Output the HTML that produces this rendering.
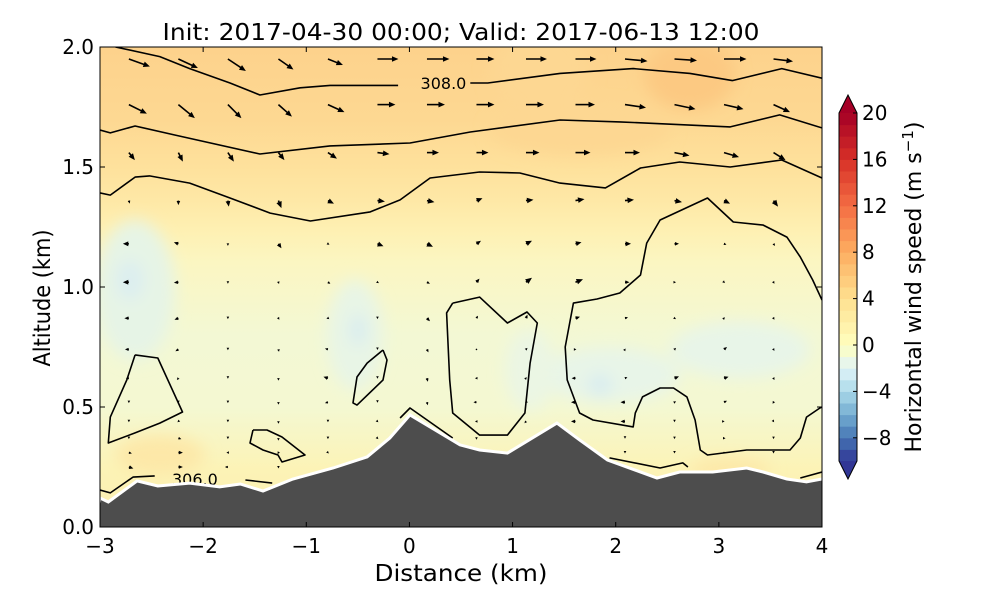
<!DOCTYPE html>
<html><head><meta charset="utf-8">
<style>
html,body{margin:0;padding:0;background:#fff;}
svg{display:block;font-family:"DejaVu Sans","Liberation Sans",sans-serif;}
</style></head>
<body>
<svg id="chart" width="1000" height="600" viewBox="0 0 1000 600" xmlns="http://www.w3.org/2000/svg">
<defs>
  <clipPath id="plotclip"><rect x="100" y="47" width="722" height="480"/></clipPath>
  <linearGradient id="bgGrad" x1="0" y1="47" x2="0" y2="527" gradientUnits="userSpaceOnUse">
    <stop offset="0" stop-color="#fdd28c"/>
    <stop offset="0.15" stop-color="#fdd892"/>
    <stop offset="0.25" stop-color="#fee19c"/>
    <stop offset="0.32" stop-color="#fee8a6"/>
    <stop offset="0.38" stop-color="#fef0b2"/>
    <stop offset="0.45" stop-color="#fbf6c2"/>
    <stop offset="0.6" stop-color="#f3f8d4"/>
    <stop offset="0.75" stop-color="#f4f8d2"/>
    <stop offset="0.88" stop-color="#fcf3b6"/>
    <stop offset="1" stop-color="#fdeeb0"/>
  </linearGradient>
  <filter id="blur8" x="-50%" y="-50%" width="200%" height="200%"><feGaussianBlur stdDeviation="8"/></filter>
</defs>
<rect x="0" y="0" width="1000" height="600" fill="#fff"/>
<g clip-path="url(#plotclip)">
  <rect x="100" y="47" width="722" height="480" fill="url(#bgGrad)"/>
  <g filter="url(#blur8)">
    <ellipse cx="690" cy="75" rx="45" ry="35" fill="#fcc982"/>
    <ellipse cx="580" cy="130" rx="90" ry="25" fill="#fdd792"/>
    <ellipse cx="135" cy="290" rx="40" ry="70" fill="#e6f4e6"/>
    <ellipse cx="130" cy="280" rx="14" ry="20" fill="#dceef0"/>
    <ellipse cx="355" cy="335" rx="28" ry="55" fill="#e8f5e6"/>
    <ellipse cx="358" cy="330" rx="8" ry="16" fill="#d8ecf0"/>
    <ellipse cx="610" cy="375" rx="70" ry="28" fill="#e8f5e8"/>
    <ellipse cx="600" cy="385" rx="12" ry="11" fill="#d8ecf0"/>
    <ellipse cx="740" cy="350" rx="70" ry="28" fill="#e8f5e8"/>
    <ellipse cx="530" cy="370" rx="25" ry="40" fill="#ebf6e4"/>
    <ellipse cx="160" cy="455" rx="45" ry="20" fill="#fde8a8"/>
    <ellipse cx="730" cy="470" rx="40" ry="12" fill="#fde8a8"/>
    <ellipse cx="540" cy="70" rx="50" ry="45" fill="#fdd792"/>
  </g>
  <g id="contours"></g>
  <g id="arrows"></g>
  <path id="terrain" fill="#4d4d4d" stroke="#fff" stroke-width="3"/>
</g>
<rect x="100" y="47" width="722" height="480" fill="none" stroke="#000" stroke-width="1"/>
<g id="ticks"></g>
<text x="461" y="40" font-size="23" text-anchor="middle" textLength="597" lengthAdjust="spacingAndGlyphs">Init: 2017-04-30 00:00; Valid: 2017-06-13 12:00</text>
<text x="461" y="581" font-size="23" text-anchor="middle" textLength="173" lengthAdjust="spacingAndGlyphs">Distance (km)</text>
<text transform="translate(50,298) rotate(-90)" font-size="23" text-anchor="middle" textLength="137" lengthAdjust="spacingAndGlyphs">Altitude (km)</text>
<g id="colorbar"></g>
<text transform="translate(921,287) rotate(-90)" font-size="22" text-anchor="middle">Horizontal wind speed (m s<tspan font-size="15" dy="-8">−1</tspan><tspan dy="8">)</tspan></text>
</svg>
<script>
// ---------- data ----------
const xTicks = [-3,-2,-1,0,1,2,3,4];
const yTicks = [0.0,0.5,1.0,1.5,2.0];
const cbTicks = [-8,-4,0,4,8,12,16,20];
const terrainX = [-3,-2.92,-2.64,-2.44,-2.13,-1.84,-1.64,-1.42,-1.13,-0.74,-0.41,-0.19,0.006,0.20,0.49,0.68,0.95,1.43,1.65,1.92,2.40,2.62,2.94,3.27,3.43,3.66,3.85,4.0];
const terrainZ = [0.121,0.104,0.192,0.171,0.183,0.167,0.179,0.15,0.2,0.246,0.292,0.371,0.467,0.417,0.342,0.321,0.308,0.433,0.363,0.279,0.204,0.229,0.229,0.246,0.229,0.2,0.188,0.2];
const contour308a = [[-2.85,2.0],[-2.42,1.96],[-2.13,1.91],[-1.74,1.85],[-1.45,1.80],[-1.06,1.83],[-0.77,1.84],[-0.11,1.84]];
const contour308b = [[0.59,1.85],[0.76,1.85],[1.46,1.89],[2.17,1.91],[2.72,1.89],[3.13,1.86],[3.61,1.91],[4.0,1.87]];
const contourB = [[-3,1.654],[-2.9,1.642],[-2.66,1.671],[-2.27,1.633],[-1.45,1.554],[-0.77,1.588],[0.006,1.60],[0.59,1.646],[1.46,1.696],[2.04,1.688],[3.11,1.667],[3.59,1.717],[4.0,1.663]];
const contourC = [[-3,1.392],[-2.9,1.383],[-2.66,1.458],[-2.52,1.463],[-2.13,1.433],[-1.74,1.371],[-1.35,1.308],[-0.96,1.275],[-0.38,1.313],[-0.09,1.363],[0.20,1.454],[0.68,1.479],[1.07,1.475],[1.46,1.433],[1.90,1.413],[2.24,1.496],[2.62,1.521],[3.11,1.5],[3.61,1.529],[4.0,1.454]];
const contourRight = [[4.0,0.946],[3.91,1.029],[3.79,1.125],[3.66,1.208],[3.43,1.258],[3.14,1.271],[2.89,1.371],[2.43,1.279],[2.30,1.183],[2.24,1.05],[2.04,0.975],[1.82,0.95],[1.59,0.933],[1.51,0.75],[1.53,0.613],[1.65,0.475],[1.78,0.446],[2.17,0.417],[2.19,0.475],[2.26,0.542],[2.43,0.579],[2.56,0.579],[2.69,0.542],[2.77,0.446],[2.82,0.321],[2.89,0.30],[3.27,0.321],[3.69,0.321],[3.79,0.371],[3.85,0.458],[3.98,0.496],[4.0,0.50]];
const contourMid = [[0.42,0.933],[0.68,0.958],[0.95,0.85],[1.14,0.896],[1.24,0.85],[1.17,0.683],[1.12,0.475],[0.95,0.383],[0.68,0.383],[0.42,0.475],[0.39,0.613],[0.36,0.892],[0.42,0.933]];
const contourSmall = [[-0.256,0.7375],[-0.217,0.696],[-0.256,0.6125],[-0.508,0.508],[-0.547,0.517],[-0.508,0.625],[-0.41,0.683],[-0.256,0.7375]];
const contourLeft = [[-2.66,0.717],[-2.44,0.704],[-2.20,0.479],[-2.42,0.433],[-2.66,0.392],[-2.92,0.35],[-2.9,0.458],[-2.74,0.613],[-2.66,0.717]];
const contourBlob = [[-1.517,0.404],[-1.381,0.404],[-1.235,0.375],[-1.012,0.3],[-1.235,0.271],[-1.274,0.3],[-1.42,0.321],[-1.546,0.35],[-1.517,0.404]];
const contour306a = [[-3,0.154],[-2.9,0.142],[-2.68,0.208],[-2.47,0.213]];
const contour306b = [[-1.59,0.196],[-1.33,0.183]];
const contourPeak = [[-0.09,0.454],[0.006,0.496],[0.42,0.371]];
const contourLow1 = [[1.94,0.288],[2.43,0.246],[2.65,0.267],[2.70,0.25]];
const contourLow2 = [[3.79,0.204],[4.0,0.229]];
const contourLabels = [{t:"308.0",x:0.33,z:1.85},{t:"306.0",x:-2.08,z:0.20}];
const arrowCols = [-2.72,-2.24,-1.76,-1.27,-0.79,-0.31,0.17,0.65,1.13,1.61,2.09,2.57,3.05,3.53];
const arrowRows = [1.95,1.76,1.56,1.36,1.18,1.02,0.87,0.74,0.62,0.52,0.44,0.37,0.31,0.25];
const U0=[7,6.5,6,5,5,7,7.5,6,7,7,7.5,7.5,7.5,6.5];
const U1=[6,5.5,4.5,4.5,5.5,6,6,6,6,6.5,7,7,6.5,5.5];
const U2=[2,1.5,2,2,3,4,4,4,4.5,5,5,5,5,4];
const U3=[0.3,0,0.3,1,2,2.5,2.5,2,2.5,3,3,2.5,2,1.5];
const U4=[-2,-1.5,0,1,0.5,2,2,1.5,2,2,2,1.5,0.8,0.5];
const U5=[-2,-1.5,0,0.2,0.8,0.5,1,1,2,2.5,1.5,0.5,0.3,0.3];
const U6=[-1.5,-1.3,0,0.3,-0.5,0,1,0.5,0.5,1.5,1,0.5,0.3,0.3];
const U7=[-1.3,-1,0,0.2,-1,0,0.5,0,0.5,0.3,0.2,0.5,1,0.3];
const U8=[-1,-0.5,0,0,-1.5,0,0.3,-0.5,0.3,-1.3,0.8,1.5,1.5,0.3];
const U9=[0,0,0,0,-1,0,0.3,-1,-0.3,-1.5,-1.5,0.5,1,-0.3];
const U10=[0,-0.3,0,0,0,0.3,0.3,-0.5,-0.5,-1.5,-1.5,0,0.2,0.2];
const U11=[0,1,0,0,0,0.3,0.5,0,-0.5,-1.2,0,0,0.5,0];
const U12=[1,1.5,-0.5,-0.3,0.3,0.5,0,0,0,0,0,0,0,0];
const U13=[1.5,1.5,-1,0,0.5,0,0,0,0,0,0,0,0,0];
const W0=[-2.5,-3,-4,-3.5,-2,0,0,0,0,0,-0.7,-0.5,0,-0.8];
const W1=[-3,-4.5,-4.5,-4,-2.5,0,0,0,0,0,-1,-1.5,-1.5,-2.5];
const W2=[-2.5,-3,-3,-2.5,-2,-0.5,0,0,0,0,0,-1,-1.5,-2.5];
const W3=[-1,-1.5,-2,-2.5,-1,-0.3,-0.5,0.8,0.3,0.5,0.3,-0.5,-1,-2];
const W4=[0,0.5,-0.7,-1.5,-0.3,-0.8,-1,1,1,0.5,0,0,-0.3,-0.7];
const W5=[0,-0.2,-0.5,-0.6,-0.5,-0.3,-0.5,1.2,1.5,1,0,0,-0.3,-0.5];
const W6=[0,-0.5,-0.3,-0.5,-0.2,-0.3,-1,0.8,1.2,0.5,0.3,-0.3,0.3,-0.5];
const W7=[0,-0.6,-0.3,-0.8,0.3,-0.2,-1,0,0.5,0,0.3,0.5,0.8,-0.5];
const W8=[0,-0.6,-0.2,-0.8,0.5,-0.2,-1.2,0,0.3,0,0.3,0.6,0.5,-0.6];
const W9=[-0.3,-0.3,-0.3,-0.8,-0.3,-0.2,-1,0,-0.2,0,0,0.3,0.5,-0.5];
const W10=[-0.3,-0.3,-0.3,-0.8,-0.3,-0.3,-1,0,-0.6,0,0,-0.3,0,-0.3];
const W11=[-0.3,-0.3,-0.3,-0.8,-0.3,-0.3,-0.5,-0.5,-0.6,-0.3,-0.2,-0.3,0,-0.3];
const W12=[-0.3,0,0,-0.5,-0.3,-0.5,-0.3,-0.3,-0.3,-0.3,-0.3,-0.3,0,-0.3];
const W13=[-0.5,0,0,-0.5,0,0,0,0,0,0,0,0,0,0];
const U=[U0,U1,U2,U3,U4,U5,U6,U7,U8,U9,U10,U11,U12,U13];
const W=[W0,W1,W2,W3,W4,W5,W6,W7,W8,W9,W10,W11,W12,W13];
const cbStops = [-10,-8,-6,-4,-2,0,4,8,12,16,20];
const cbColors = ["#313695","#4575b4","#74add1","#abd9e9","#e0f3f8","#ffffbf","#fee090","#fdae61","#f46d43","#d73027","#a50026"];

// ---------- scales ----------
const NS="http://www.w3.org/2000/svg";
const X0=100,X1=822,Y0=527,Y1=47;
const sx = v => X0 + (v+3)/7*(X1-X0);
const sy = v => Y0 - v/2*(Y0-Y1);
const cbTop=113, cbBot=461;
const cy = v => cbBot - (v+10)/30*(cbBot-cbTop);
function mk(tag,attrs,parent){const e=document.createElementNS(NS,tag);for(const k in attrs)e.setAttribute(k,attrs[k]);parent.appendChild(e);return e;}
function terrainAt(x){for(let i=0;i<terrainX.length-1;i++){if(x>=terrainX[i]&&x<=terrainX[i+1]){const t=(x-terrainX[i])/(terrainX[i+1]-terrainX[i]);return terrainZ[i]+t*(terrainZ[i+1]-terrainZ[i]);}}return 0.2;}

// terrain
let d="M"+sx(-3.1)+","+sy(-0.1);
terrainX.forEach((x,i)=>{d+=" L"+sx(x).toFixed(1)+","+sy(terrainZ[i]).toFixed(1);});
d+=" L"+sx(4.1)+","+sy(terrainZ[terrainZ.length-1])+" L"+sx(4.1)+","+sy(-0.1)+" Z";
document.getElementById('terrain').setAttribute('d',d);

// contours
const cg=document.getElementById('contours');
const lines=[contour308a,contour308b,contourB,contourC,contourRight,contourMid,contourSmall,contourLeft,contourBlob,contour306a,contour306b,contourPeak,contourLow1,contourLow2];
lines.forEach(pts=>{
  const p=mk('polyline',{points:pts.map(q=>sx(q[0]).toFixed(1)+","+sy(q[1]).toFixed(1)).join(" "),fill:"none",stroke:"#000","stroke-width":1.6,"stroke-linejoin":"round"},cg);
  
  
});
contourLabels.forEach(l=>{
  const t=mk('text',{x:sx(l.x),y:sy(l.z)+6,"font-size":16,"text-anchor":"middle"},cg);
  t.textContent=l.t;
  
  
});

// arrows
const ag=document.getElementById('arrows');
const SC=3;
arrowRows.forEach((z,r)=>{
  arrowCols.forEach((x,c)=>{
    if(z < terrainAt(x)+0.035) return;
    const u=U[r][c], w=W[r][c];
    const x0=sx(x), y0=sy(z);
    const dx=u*SC, dy=-w*SC;
    const L=Math.hypot(dx,dy);
    const g=mk('g',{},ag);
    
    
    if(L<0.5){mk('circle',{cx:x0,cy:y0,r:0.8,fill:"#000"},g);return;}
    const ux=dx/L, uy=dy/L;
    const hl=Math.min(6.5,Math.max(2.5,L*0.9)), hw=Math.min(2.8,Math.max(1.3,L*0.4));
    const tx=x0+dx, ty=y0+dy;
    if(L>hl) mk('line',{x1:x0,y1:y0,x2:tx-ux*hl*0.7,y2:ty-uy*hl*0.7,stroke:"#000","stroke-width":1.6},g);
    const bx=tx-ux*hl, by=ty-uy*hl;
    mk('polygon',{points:`${tx},${ty} ${bx-uy*hw},${by+ux*hw} ${bx+uy*hw},${by-ux*hw}`,fill:"#000"},g);
  });
});

// ticks
const tg=document.getElementById('ticks');
xTicks.forEach(v=>{
  const x=sx(v);
  mk('line',{x1:x,y1:Y0,x2:x,y2:Y0-5,stroke:"#000"},tg);
  mk('line',{x1:x,y1:Y1,x2:x,y2:Y1+5,stroke:"#000"},tg);
  const t=mk('text',{x:x,y:553,"font-size":20,"text-anchor":"middle"},tg);
  t.textContent=(v<0?"\u2212"+(-v):String(v));
  
  
});
yTicks.forEach(v=>{
  const y=sy(v);
  mk('line',{x1:X0,y1:y,x2:X0+5,y2:y,stroke:"#000"},tg);
  mk('line',{x1:X1,y1:y,x2:X1-5,y2:y,stroke:"#000"},tg);
  const t=mk('text',{x:94,y:y+7,"font-size":20,"text-anchor":"end"},tg);
  t.textContent=v.toFixed(1);
  
  
});

// colorbar
function hex(h){return [1,3,5].map(i=>parseInt(h.substr(i,2),16));}
function colorAt(v){
  for(let i=0;i<cbStops.length-1;i++){
    if(v>=cbStops[i]&&v<=cbStops[i+1]){const t=(v-cbStops[i])/(cbStops[i+1]-cbStops[i]);const a=hex(cbColors[i]),b=hex(cbColors[i+1]);return "rgb("+a.map((c,k)=>Math.round(c+t*(b[k]-c))).join(",")+")";}
  }
  return v<cbStops[0]?cbColors[0]:cbColors[cbColors.length-1];
}
const cb=document.getElementById('colorbar');
const CBX=839, CBW=18;
for(let v=-10;v<20;v++){
  const r=mk('rect',{x:CBX,y:cy(v+1),width:CBW,height:cy(v)-cy(v+1)+0.5,fill:colorAt(v+0.5)},cb);
  
  
}
mk('polygon',{points:`${CBX},${cbTop} ${CBX+CBW/2},95 ${CBX+CBW},${cbTop}`,fill:cbColors[cbColors.length-1]},cb);
mk('polygon',{points:`${CBX},${cbBot} ${CBX+CBW/2},479 ${CBX+CBW},${cbBot}`,fill:cbColors[0]},cb);
mk('polygon',{points:`${CBX},${cbTop} ${CBX+CBW/2},95 ${CBX+CBW},${cbTop} ${CBX+CBW},${cbBot} ${CBX+CBW/2},479 ${CBX},${cbBot}`,fill:"none",stroke:"#000","stroke-width":1},cb);
cbTicks.forEach(v=>{
  const y=cy(v);
  mk('line',{x1:CBX+CBW-4,y1:y,x2:CBX+CBW,y2:y,stroke:"#000"},cb);
  const t=mk('text',{x:862,y:y+7,"font-size":20},cb);
  t.textContent=(v<0?"\u2212"+(-v):String(v));
  
  
});
</script>
</body></html>
